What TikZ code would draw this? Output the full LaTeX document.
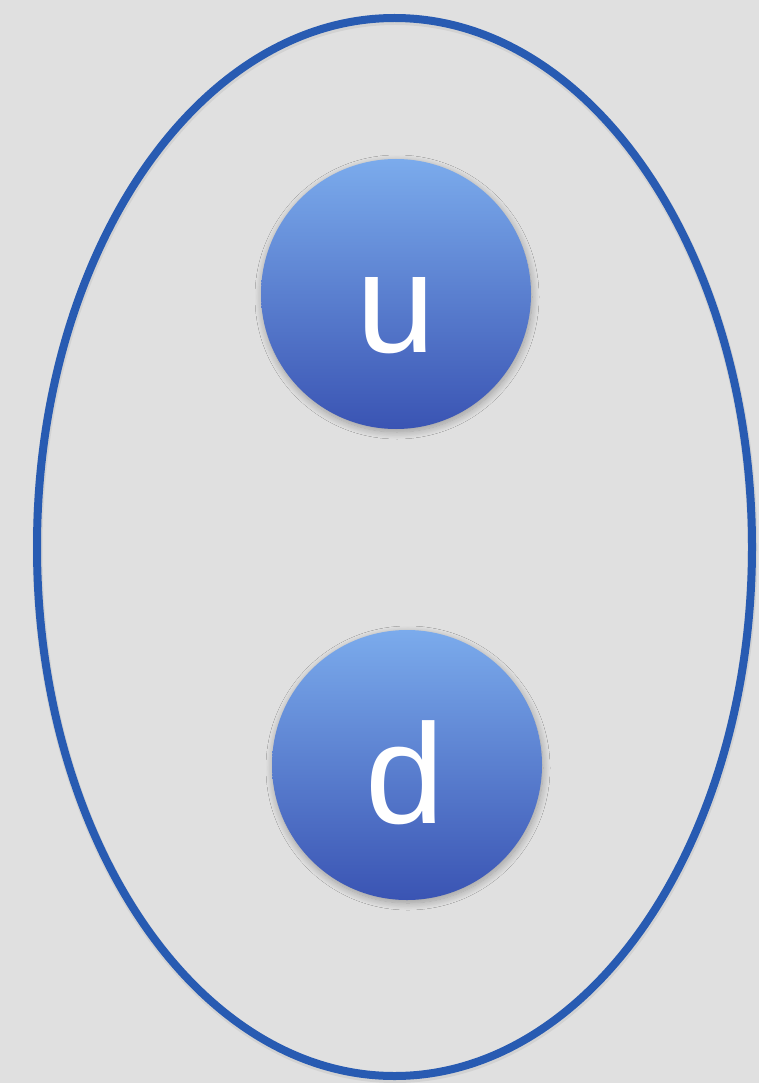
\documentclass[tikz,border=0pt]{standalone}
\usepackage{fontspec}
\setmainfont{Liberation Sans}
\usetikzlibrary{shadows.blur}
\definecolor{bgGray}{HTML}{E0E0E0}
\definecolor{ringBlue}{HTML}{285BB2}
\definecolor{ballTop}{HTML}{7BABEC}
\definecolor{ballBottom}{HTML}{3A54B3}
\begin{document}
\begin{tikzpicture}[x=1pt,y=-1pt,
  ball/.style={circle, minimum size=270pt, inner sep=0pt,
    top color=ballTop, bottom color=ballBottom, draw=none,
    blur shadow={shadow xshift=1pt, shadow yshift=-3pt, shadow blur radius=7pt, shadow blur steps=12, shadow opacity=30}},
  lbl/.style={text=white, font=\fontsize{142}{142}\selectfont, inner sep=0pt, anchor=base},
  ring/.style={draw=ringBlue, line width=8pt}]
  % page
  \fill[bgGray] (0,0) rectangle (759,1083);
  \useasboundingbox (0,0) rectangle (759,1083);
  % outer shell with a faint shadow
  \draw[black, opacity=0.06, line width=10pt] (395,549) ellipse [x radius=357.5, y radius=529];
  \draw[ring] (394.5,547) ellipse [x radius=357.5, y radius=529];
  % the two particles
  \node[ball] (u) at (396,294) {};
  \node[ball] (d) at (407,765) {};
  \node[lbl] (ulabel) at (396,352) {u};
  \node[lbl] (dlabel) at (405,823) {d};
\end{tikzpicture}
\end{document}
